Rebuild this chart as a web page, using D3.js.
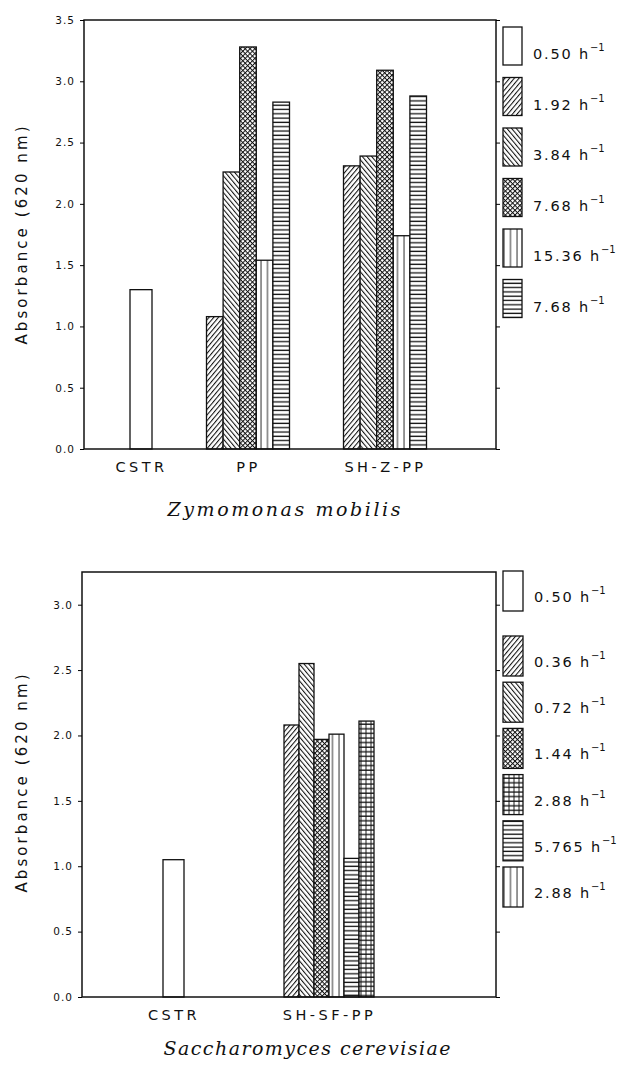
<!DOCTYPE html>
<html>
<head>
<meta charset="utf-8">
<script src="https://cdn.jsdelivr.net/npm/d3@7"></script>
<style>
    body { margin: 0; background: #fff; }
    text { font-family: "DejaVu Sans", sans-serif; fill: #111; }
</style>
</head>
<body>
<div id="chart"></div>
<script>

// Zymomonas mobilis (top panel)
var zmGroups = ["CSTR", "PP", "SH-Z-PP"];
var zmRates = ["0.50", "1.92", "3.84", "7.68", "15.36", "7.68"];
var zmBarGroup = ["CSTR", "PP", "PP", "PP", "PP", "PP", "SH-Z-PP", "SH-Z-PP", "SH-Z-PP", "SH-Z-PP", "SH-Z-PP"];
var zmBarSeries = [0, 1, 2, 3, 4, 5, 1, 2, 3, 4, 5];
var zmBarValue = [1.30, 1.08, 2.26, 3.28, 1.54, 2.83, 2.31, 2.39, 3.09, 1.74, 2.88];
var zmTicks = [0, 0.5, 1.0, 1.5, 2.0, 2.5, 3.0, 3.5];

// Saccharomyces cerevisiae (bottom panel)
var scGroups = ["CSTR", "SH-SF-PP"];
var scRates = ["0.50", "0.36", "0.72", "1.44", "2.88", "5.765", "2.88"];
var scBarGroup = ["CSTR", "SH-SF-PP", "SH-SF-PP", "SH-SF-PP", "SH-SF-PP", "SH-SF-PP", "SH-SF-PP"];
var scBarSeries = [0, 1, 2, 3, 6, 5, 4];
var scBarValue = [1.05, 2.08, 2.55, 1.97, 2.01, 1.06, 2.11];
var scTicks = [0, 0.5, 1.0, 1.5, 2.0, 2.5, 3.0];

var W = 627, H = 1074;

var svg = d3.select("#chart").append("svg")
    .attr("width", W)
    .attr("height", H);

// hatch fills
var defs = svg.append("defs");

function hatch(id, size, angle, lines) {
    var p = defs.append("pattern")
        .attr("id", id)
        .attr("patternUnits", "userSpaceOnUse")
        .attr("width", size[0])
        .attr("height", size[1])
        .attr("patternTransform", "rotate(" + angle + ")");
    p.append("rect").attr("width", size[0]).attr("height", size[1]).attr("fill", "#fff");
    lines.forEach(function(l) {
        p.append("line")
            .attr("x1", l[0]).attr("y1", l[1]).attr("x2", l[2]).attr("y2", l[3])
            .attr("stroke", "#111").attr("stroke-width", l[4] || 1);
    });
}
hatch("fwd", [3.6, 10], 40, [[0.5, 0, 0.5, 10, 1.1]]);
hatch("back", [3.6, 10], -40, [[0.5, 0, 0.5, 10, 1.1]]);
hatch("cross", [3.4, 3.4], 45, [[0.5, 0, 0.5, 3.4, 1], [0, 0.5, 3.4, 0.5, 1]]);
hatch("vert", [6.5, 10], 0, [[1, 0, 1, 10, 0.9]]);
hatch("horiz", [10, 4.3], 0, [[0, 2, 10, 2, 1.3]]);
hatch("grid", [5, 4.6], 0, [[0, 2, 5, 2, 1.3], [1, 0, 1, 4.6, 0.9]]);

var zmFills = ["#fff", "url(#fwd)", "url(#back)", "url(#cross)", "url(#vert)", "url(#horiz)"];
var scFills = ["#fff", "url(#fwd)", "url(#back)", "url(#cross)", "url(#grid)", "url(#horiz)", "url(#vert)"];


/*
 * BarPanel - one framed bar chart with a legend column
 */
BarPanel = function(_cfg) {
    this.cfg = _cfg;
    this.initVis();
};

BarPanel.prototype.initVis = function() {
    var vis = this, c = vis.cfg;

    vis.g = svg.append("g");

    vis.y = d3.scaleLinear()
        .domain([0, c.yMax])
        .range([c.bottom, c.top]);

    vis.xGroup = d3.scaleOrdinal()
        .domain(c.groups)
        .range(c.groupX);

    vis.fill = d3.scaleOrdinal()
        .domain(d3.range(c.rates.length))
        .range(c.fills);

    vis.wrangleData();
};

BarPanel.prototype.wrangleData = function() {
    var vis = this, c = vis.cfg;

    vis.bars = c.barValue.map(function(v, i) {
        return { group: c.barGroup[i], series: c.barSeries[i], value: v, idx: i };
    });

    // slot of each bar inside its group
    vis.slots = {};
    c.groups.forEach(function(gr) {
        var members = vis.bars.filter(function(b) { return b.group === gr; });
        var bw = members.length === 1 ? c.singleWidth : c.barWidth;
        vis.slots[gr] = d3.scaleBand()
            .domain(members.map(function(b) { return b.idx; }))
            .range([-bw * members.length / 2, bw * members.length / 2]);
    });

    vis.updateVis();
};

BarPanel.prototype.updateVis = function() {
    var vis = this, c = vis.cfg;

    // bars
    vis.g.selectAll(".bar")
        .data(vis.bars)
        .enter().append("rect")
        .attr("class", "bar")
        .attr("x", function(d) { return vis.xGroup(d.group) + vis.slots[d.group](d.idx); })
        .attr("width", function(d) { return vis.slots[d.group].bandwidth(); })
        .attr("y", function(d) { return vis.y(d.value); })
        .attr("height", function(d) { return vis.y(0) - vis.y(d.value); })
        .attr("fill", function(d) { return vis.fill(d.series); })
        .attr("stroke", "#111")
        .attr("stroke-width", 1.3);

    // frame
    vis.g.append("rect")
        .attr("x", c.left).attr("y", c.top)
        .attr("width", c.right - c.left).attr("height", c.bottom - c.top)
        .attr("fill", "none")
        .attr("stroke", "#111")
        .attr("stroke-width", 1.5);

    var yAxis = d3.axisLeft(vis.y)
        .tickValues(c.ticks)
        .tickSize(4)
        .tickPadding(5)
        .tickFormat(d3.format(".1f"));

    var ya = vis.g.append("g")
        .attr("transform", "translate(" + c.left + ",0)")
        .call(yAxis);
    ya.select(".domain").remove();
    ya.selectAll("text")
        .style("font-size", "10.5px")
        .style("letter-spacing", "1px")
        .style("font-family", "DejaVu Sans");

    var yr = vis.g.append("g")
        .attr("transform", "translate(" + c.right + ",0)")
        .call(d3.axisLeft(vis.y).tickValues(c.ticks).tickSize(-4).tickFormat(""));
    yr.select(".domain").remove();

    // category labels
    var xa = vis.g.append("g")
        .attr("transform", "translate(0," + c.bottom + ")")
        .call(d3.axisBottom(vis.xGroup).tickSize(0).tickPadding(13));
    xa.select(".domain").remove();
    xa.selectAll("text")
        .style("font-size", "14.5px")
        .style("letter-spacing", "3.5px")
        .style("font-family", "DejaVu Sans");

    // y title
    vis.g.append("text")
        .attr("transform", "translate(27," + ((c.top + c.bottom) / 2 + c.yLabelShift) + ") rotate(-90)")
        .attr("text-anchor", "middle")
        .attr("textLength", 218)
        .attr("lengthAdjust", "spacing")
        .style("font-size", "15px")
        .text("Absorbance (620 nm)");

    // species name
    vis.g.append("text")
        .attr("x", c.titleX)
        .attr("y", c.titleY)
        .attr("text-anchor", "middle")
        .attr("textLength", c.titleLen)
        .attr("lengthAdjust", "spacing")
        .style("font-family", "DejaVu Serif")
        .style("font-style", "italic")
        .style("font-size", "19px")
        .text(c.title);

    // legend
    var leg = vis.g.selectAll(".leg")
        .data(c.rates)
        .enter().append("g")
        .attr("class", "leg")
        .attr("transform", function(d, i) {
            return "translate(" + c.legX + "," + (c.legY0 + i * c.legStep + (i > 0 ? c.legGap : 0)) + ")";
        });

    leg.append("rect")
        .attr("x", 0)
        .attr("y", -c.legH / 2)
        .attr("width", c.legW)
        .attr("height", c.legH)
        .attr("fill", function(d, i) { return vis.fill(i); })
        .attr("stroke", "#111")
        .attr("stroke-width", 1.3);

    var lt = leg.append("text")
        .attr("x", c.legW + 11)
        .attr("y", c.legTextDy)
        .style("font-size", "14.5px")
        .style("letter-spacing", "1.8px");
    lt.append("tspan").text(function(d) { return d + " h"; });
    lt.append("tspan")
        .attr("dy", -8)
        .style("font-size", "10px")
        .style("letter-spacing", "0px")
        .text("\u22121");
};


new BarPanel({
    groups: zmGroups, rates: zmRates, fills: zmFills, ticks: zmTicks,
    barGroup: zmBarGroup, barSeries: zmBarSeries, barValue: zmBarValue,
    left: 84, right: 496, top: 20, bottom: 449, yMax: 3.5,
    groupX: [141, 248, 385], barWidth: 16.6, singleWidth: 22,
    yLabelShift: 1,
    title: "Zymomonas mobilis", titleX: 284, titleY: 516, titleLen: 233,
    legX: 503, legW: 19, legH: 38, legY0: 46, legStep: 50.5, legGap: 0, legTextDy: 13
});

new BarPanel({
    groups: scGroups, rates: scRates, fills: scFills, ticks: scTicks,
    barGroup: scBarGroup, barSeries: scBarSeries, barValue: scBarValue,
    left: 82, right: 496, top: 572, bottom: 997, yMax: 3.25,
    groupX: [173.5, 329], barWidth: 15, singleWidth: 21,
    yLabelShift: -1,
    title: "Saccharomyces cerevisiae", titleX: 307, titleY: 1055, titleLen: 287,
    legX: 503, legW: 20, legH: 40, legY0: 591, legStep: 46.2, legGap: 18.8, legTextDy: 11
});

</script>
</body>
</html>
